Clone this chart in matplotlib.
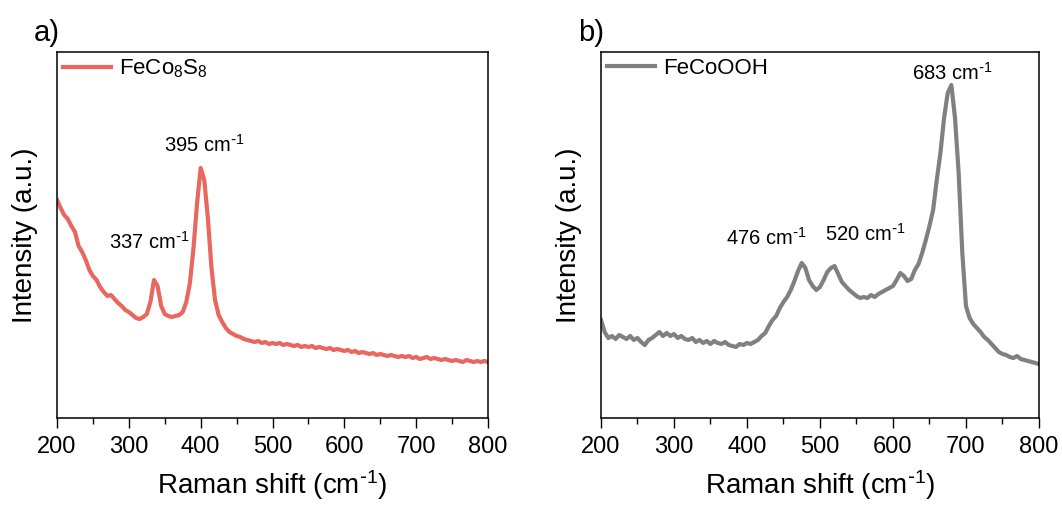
import numpy as np
import matplotlib
matplotlib.use('Agg')
import matplotlib.pyplot as plt
from matplotlib.ticker import MultipleLocator

plt.rcParams['font.family'] = ['Liberation Sans', 'DejaVu Sans']
plt.rcParams['mathtext.default'] = 'regular'

# Raman shift grid (cm-1), 5 cm-1 step
shift = np.arange(200, 801, 5)

# FeCo8S8 intensity (a.u.)
feco8s8 = [218, 210, 203, 199, 192, 186, 172, 166, 158, 148,
           142, 138, 131, 126, 122, 123, 119, 115, 112, 108,
           106, 103, 100, 99, 101, 104, 116, 138, 132, 112,
           104, 102, 101, 102, 103, 106, 116, 135, 170, 215,
           250, 238, 200, 150, 118, 103, 96, 90, 86, 84,
           82, 81, 79, 78, 77, 76, 77, 75, 76, 74,
           75, 74, 75, 73, 74, 73, 72, 73, 71, 72,
           71, 72, 70, 71, 70, 69, 70, 68, 69, 68,
           67, 68, 66, 67, 65, 66, 65, 64, 65, 63,
           64, 63, 62, 63, 62, 61, 62, 61, 62, 60,
           61, 59, 60, 61, 59, 60, 59, 58, 59, 58,
           57, 58, 57, 56, 58, 57, 56, 57, 56, 57,
           56]

# FeCoOOH intensity (a.u.)
fecooh = [98, 86, 80, 82, 79, 83, 81, 79, 82, 78,
          80, 76, 73, 78, 80, 83, 86, 82, 85, 82,
          84, 80, 82, 79, 78, 80, 76, 78, 75, 77,
          74, 77, 75, 74, 76, 73, 72, 71, 74, 73,
          75, 74, 76, 78, 82, 85, 92, 98, 102, 110,
          116, 121, 128, 137, 147, 155, 150, 138, 132, 128,
          131, 138, 146, 150, 152, 144, 136, 132, 128, 125,
          122, 120, 121, 120, 123, 121, 124, 126, 128, 130,
          132, 138, 145, 142, 137, 139, 148, 154, 165, 178,
          192, 208, 238, 265, 300, 325, 333, 300, 245, 165,
          112, 100, 94, 90, 86, 81, 78, 74, 70, 66,
          64, 63, 61, 60, 62, 59, 58, 57, 56, 55,
          54]

unit = r'cm$^{\text{-}1}$'
panels = [
    dict(y=feco8s8, color='#E8675F', label='FeCo$_8$S$_8$', tag='a)',
         peaks=[('337 ' + unit, 328, 176), ('395 ' + unit, 405, 273)]),
    dict(y=fecooh, color='#808080', label='FeCoOOH', tag='b)',
         peaks=[('476 ' + unit, 427, 180), ('520 ' + unit, 562, 184),
                ('683 ' + unit, 681, 345)]),
]

fig = plt.figure(figsize=(10.62, 5.09), dpi=100)
ax_pos = [[0.0537, 0.1788, 0.4058, 0.719],
          [0.5659, 0.1788, 0.4124, 0.719]]

for pos, p in zip(ax_pos, panels):
    ax = fig.add_axes(pos)
    ax.plot(shift, p['y'], color=p['color'], lw=3, label=p['label'])
    ax.set_xlim(200, 800)
    ax.set_ylim(0, 366)
    ax.set_yticks([])
    ax.xaxis.set_major_locator(MultipleLocator(100))
    ax.xaxis.set_minor_locator(MultipleLocator(50))
    ax.tick_params(axis='x', which='major', direction='out', length=7,
                   width=1, labelsize=17, pad=6)
    ax.tick_params(axis='x', which='minor', direction='out', length=4, width=1)
    for s in ax.spines.values():
        s.set_linewidth(1.1)
    ax.set_xlabel('Raman shift (' + unit + ')', fontsize=20, labelpad=7)
    ax.set_ylabel('Intensity (a.u.)', fontsize=20, labelpad=14)
    for txt, x, y in p['peaks']:
        ax.text(x, y, txt, fontsize=14.5, ha='center', va='center')
    ax.legend(loc='upper left', frameon=False, fontsize=16, handlelength=2.2,
              handletextpad=0.35, borderaxespad=0.05, borderpad=0.2)
    ax.text(-0.023, 1.052, p['tag'], transform=ax.transAxes, fontsize=21,
            ha='center', va='center')

fig.savefig('out.png', dpi=100)
